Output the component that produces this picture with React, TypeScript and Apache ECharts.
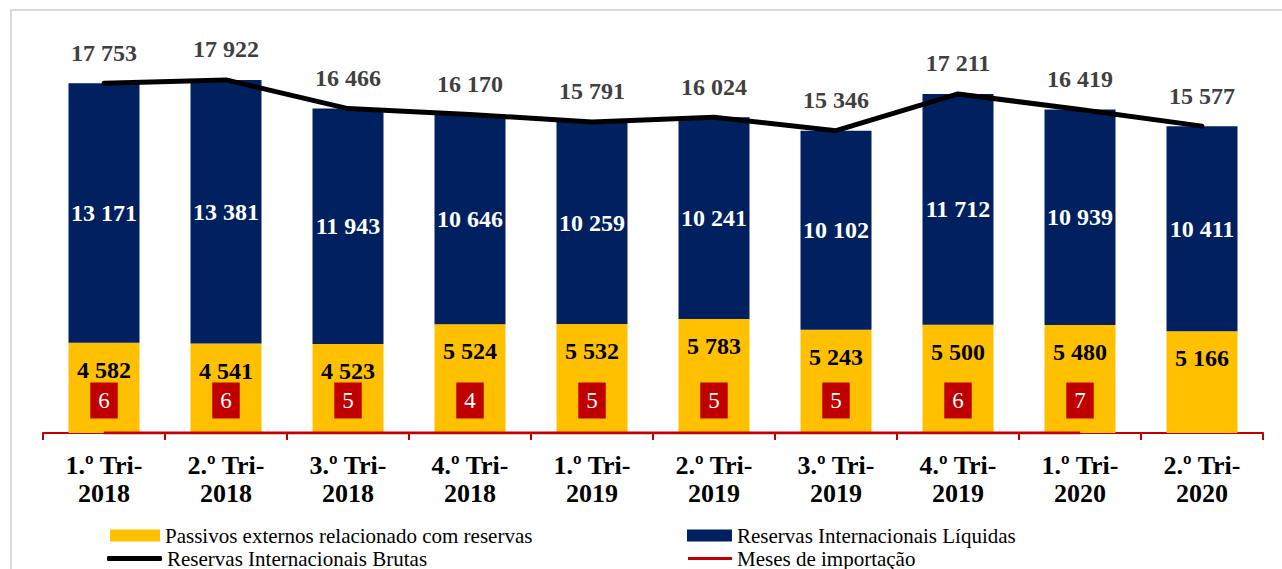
import React, { useEffect, useRef } from "react";
import * as echarts from "echarts";

const categories = [
  "1.º Tri-\n2018", "2.º Tri-\n2018", "3.º Tri-\n2018", "4.º Tri-\n2018",
  "1.º Tri-\n2019", "2.º Tri-\n2019", "3.º Tri-\n2019", "4.º Tri-\n2019",
  "1.º Tri-\n2020", "2.º Tri-\n2020",
];
const passivos = [4582, 4541, 4523, 5524, 5532, 5783, 5243, 5500, 5480, 5166];
const liquidas = [13171, 13381, 11943, 10646, 10259, 10241, 10102, 11712, 10939, 10411];
const brutas = [17753, 17922, 16466, 16170, 15791, 16024, 15346, 17211, 16419, 15577];
const meses: (number | null)[] = [6, 6, 5, 4, 5, 5, 5, 6, 7, null];

const NAMES = {
  passivos: "Passivos externos relacionado com reservas",
  liquidas: "Reservas Internacionais Líquidas",
  brutas: "Reservas Internacionais Brutas",
  meses: "Meses de importação",
};

const FONT = "'Liberation Serif', 'Times New Roman', serif";
const fmt = (v: number) => {
  const s = String(Math.round(v));
  return s.replace(/\B(?=(\d{3})+(?!\d))/g, " ");
};

export default function App() {
  const ref = useRef<HTMLDivElement>(null);
  useEffect(() => {
    if (!ref.current) return;
    const chart = echarts.init(ref.current, null, { renderer: "svg" });
    const legendText = { fontFamily: FONT, fontSize: 21, lineHeight: 21, color: "#000" };
    chart.setOption({
      animation: false,
      backgroundColor: "#fff",
      textStyle: { fontFamily: FONT },
      grid: { left: 43, right: 19, top: 39, bottom: 136, containLabel: false },
      graphic: [
        {
          type: "rect",
          z: -10,
          shape: { x: 11, y: 10, width: 1300, height: 600 },
          style: { fill: "none", stroke: "#d9d9d9", lineWidth: 2 },
        },
      ],
      legend: [
        {
          left: 110, top: 525, itemWidth: 50, itemHeight: 12, padding: 0,
          data: [{ name: NAMES.passivos, icon: "rect" }],
          textStyle: legendText, selectedMode: false,
        },
        {
          left: 687, top: 525, itemWidth: 45, itemHeight: 12, padding: 0,
          data: [{ name: NAMES.liquidas, icon: "rect" }],
          textStyle: legendText, selectedMode: false,
        },
        {
          left: 107, top: 548, itemWidth: 55, itemHeight: 5, padding: 0,
          data: [{ name: NAMES.brutas, icon: "roundRect" }],
          textStyle: legendText, selectedMode: false,
        },
        {
          left: 688, top: 548, itemWidth: 44, itemHeight: 3, padding: 0,
          data: [{ name: NAMES.meses, icon: "rect" }],
          textStyle: legendText, selectedMode: false,
        },
      ],
      xAxis: {
        type: "category",
        data: categories,
        axisLine: { lineStyle: { color: "#C00000", width: 2 } },
        axisTick: { show: true, length: 7, lineStyle: { color: "#C00000", width: 2 }, interval: 0 },
        axisLabel: {
          interval: 0,
          margin: 18,
          fontFamily: FONT,
          fontSize: 26,
          fontWeight: "bold",
          color: "#000",
          lineHeight: 28,
        },
      },
      yAxis: [
        { type: "value", min: 0, max: 20000, show: false, splitLine: { show: false } },
        { type: "value", min: 0, max: 100000, show: false, splitLine: { show: false } },
      ],
      series: [
        {
          name: NAMES.passivos,
          type: "bar",
          stack: "r",
          data: passivos,
          barWidth: 71,
          itemStyle: { color: "#FFC000" },
          label: {
            show: true,
            position: "insideTop",
            distance: 15,
            formatter: (p: any) => fmt(p.value),
            fontFamily: FONT,
            fontSize: 24,
            fontWeight: "bold",
            color: "#000",
          },
        },
        {
          name: NAMES.liquidas,
          type: "bar",
          stack: "r",
          data: liquidas,
          barWidth: 71,
          itemStyle: { color: "#002060" },
          label: {
            show: true,
            position: "inside",
            formatter: (p: any) => fmt(p.value),
            fontFamily: FONT,
            fontSize: 24,
            fontWeight: "bold",
            color: "#fff",
          },
        },
        {
          name: NAMES.brutas,
          type: "line",
          data: brutas,
          symbol: "circle",
          symbolSize: 1,
          itemStyle: { color: "#000" },
          lineStyle: { color: "#000", width: 5, cap: "round", join: "round" },
          z: 5,
          label: {
            show: true,
            position: "top",
            distance: 18,
            formatter: (p: any) => fmt(p.value),
            fontFamily: FONT,
            fontSize: 24,
            fontWeight: "bold",
            color: "#404040",
          },
        },
        {
          name: NAMES.meses,
          type: "line",
          yAxisIndex: 1,
          data: meses,
          symbol: "circle",
          symbolSize: 1,
          itemStyle: { color: "#C00000" },
          lineStyle: { color: "#C00000", width: 3 },
          z: 6,
          label: {
            show: true,
            position: "top",
            distance: 14,
            formatter: (p: any) => (p.value == null ? "" : String(p.value)),
            fontFamily: FONT,
            fontSize: 23,
            lineHeight: 24,
            color: "#fff",
            backgroundColor: "#C00000",
            padding: [6, 8],
          },
        },
      ],
    });
    return () => chart.dispose();
  }, []);
  return (
    <div
      ref={ref}
      style={{ position: "absolute", left: 0, top: 0, width: 1282, height: 569 }}
    />
  );
}
